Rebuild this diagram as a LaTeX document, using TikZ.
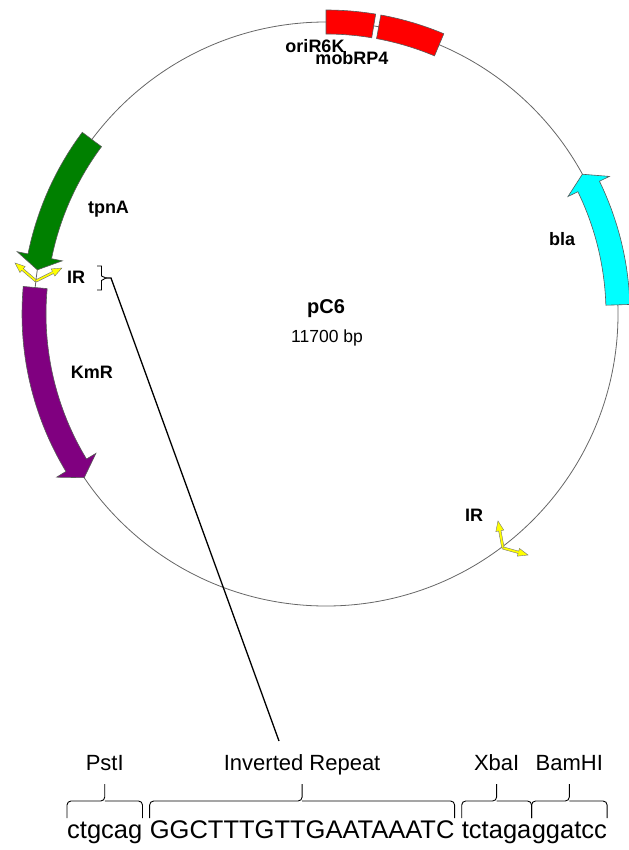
\documentclass[tikz,border=0pt]{standalone}
\usepackage{fontspec}
\setmainfont{Liberation Sans}
\usetikzlibrary{calc}
\definecolor{tpnAc}{RGB}{0,128,0}
\definecolor{kmrc}{RGB}{128,0,128}
\definecolor{blac}{RGB}{0,255,255}
\definecolor{oric}{RGB}{255,0,0}
\definecolor{irc}{RGB}{255,255,0}
\newcommand\irarrow[4]{%
  \begin{scope}[shift={(#1,#2)}, rotate=#3]
    \draw[irst] (0,-1.2) -- ({#4-10},-1.2) -- ({#4-10},-4) -- (#4,0) -- ({#4-10},4) -- ({#4-10},1.2) -- (0,1.2) -- cycle;
  \end{scope}}
\newcommand\seqbrace[1]{%
  \draw[sbrace] (#1.west |- bl) -- (#1.west |- bm) -- (#1.center |- bm) -- (#1.center |- bt);
  \draw[sbrace] (#1.east |- bl) -- (#1.east |- bm) -- (#1.center |- bm);}
\begin{document}
\begin{tikzpicture}[x=1bp,y=-1bp,
  ring/.style={draw=black!60, line width=0.8bp},
  feat/.style={draw=black!65, line width=0.6bp},
  irst/.style={draw=black!55, line width=0.4bp, fill=irc},
  glbl/.style={anchor=base, inner sep=0pt, font=\fontsize{18bp}{20bp}\selectfont\bfseries},
  seq/.style={inner sep=0pt, font=\fontsize{25.5bp}{28bp}\selectfont},
  slbl/.style={anchor=base, inner sep=0pt, font=\fontsize{22bp}{24bp}\selectfont},
  sbrace/.style={draw=black, line width=0.9bp, rounded corners=4bp},
  callout/.style={draw=black, line width=1.3bp},
  smallbrace/.style={draw=black, line width=0.9bp}]
\useasboundingbox (0,0) rectangle (629,850);
\coordinate (C) at (326,314);
\draw[ring] (C) circle[radius=292];
\begin{scope}[shift={(C)}, yscale=-1]
  % oriR6K
  \draw[feat, fill=oric] (90:304) arc[start angle=90, end angle=80.6, radius=304] -- (80.6:280) arc[start angle=80.6, end angle=90, radius=280] -- cycle;
  % mobRP4
  \draw[feat, fill=oric] (79.6:304) arc[start angle=79.6, end angle=67.2, radius=304] -- (67.2:280) arc[start angle=67.2, end angle=79.6, radius=280] -- cycle;
  % tpnA
  \draw[feat, fill=tpnAc] (143.3:304) arc[start angle=143.3, end angle=168.6, radius=304] -- (168.6:315) -- (171.3:292) -- (168.6:269) -- (168.6:280) arc[start angle=168.6, end angle=143.3, radius=280] -- cycle;
  % KmR
  \draw[feat, fill=kmrc] (174.8:304) arc[start angle=174.8, end angle=211.2, radius=304] -- (211.2:315) -- (214.1:292) -- (211.2:269) -- (211.2:280) arc[start angle=211.2, end angle=174.8, radius=280] -- cycle;
  % bla
  \draw[feat, fill=blac] (1.8:304) arc[start angle=1.8, end angle=25.9, radius=304] -- (25.9:315) -- (28.6:292) -- (25.9:269) -- (25.9:280) arc[start angle=25.9, end angle=1.8, radius=280] -- cycle;
\end{scope}
% inverted repeat markers
\irarrow{36}{281}{139.4}{27.7}
\irarrow{36}{281}{26.6}{29}
\irarrow{503}{548}{100.5}{27.5}
\irarrow{503}{548}{-15.6}{26}
% feature labels
\node[glbl] (oriL) at (315,52) {oriR6K};
\node[glbl] (mobL) at (352,64) {mobRP4};
\node[glbl] (tpnL) at (108.5,213) {tpnA};
\node[glbl] (irL1) at (76,283) {IR};
\node[glbl] (kmL) at (92,378.5) {KmR};
\node[glbl] (blaL) at (562,245.5) {bla};
\node[glbl] (irL2) at (474,521.5) {IR};
\node[anchor=base, inner sep=0pt, font=\fontsize{20bp}{22bp}\selectfont\bfseries] (pname) at (326,313) {pC6};
\node[anchor=base, inner sep=0pt, font=\fontsize{17.5bp}{20bp}\selectfont] (psize) at (327,342.5) {11700 bp};
% IR callout
\coordinate (brTip) at (106,278);
\coordinate (brOut) at (111,278);
\draw[smallbrace] (97,266) -- (101.5,266) -- (101.5,276) -- (brTip) -- (101.5,280.5) -- (101.5,290) -- (97,290);
\coordinate (callEnd) at (279,741);
\draw[callout] (brTip) -- (brOut) -- (callEnd);
% sequence
\node[seq, anchor=base west] (s1) at (67,838) {ctgcag};
\node[seq, anchor=base west] (s2) at ($(s1.base east)+(7.1,0)$) {GGCTTTGTTGAATAAATC};
\node[seq, anchor=base west] (s3) at ($(s2.base east)+(7.1,0)$) {tctaga};
\node[seq, anchor=base west] (s4) at (s3.base east) {ggatcc};
\coordinate (bl) at (0,818);
\coordinate (bm) at (0,801);
\coordinate (bt) at (0,784);
\coordinate (ly) at (0,770);
\seqbrace{s1}
\seqbrace{s2}
\seqbrace{s3}
\seqbrace{s4}
\node[slbl] (pstL) at (s1.center |- ly) {PstI};
\node[slbl] (invL) at (s2.center |- ly) {Inverted Repeat};
\node[slbl] (xbaL) at (s3.center |- ly) {XbaI};
\node[slbl] (bamL) at (s4.center |- ly) {BamHI};
\end{tikzpicture}
\end{document}
